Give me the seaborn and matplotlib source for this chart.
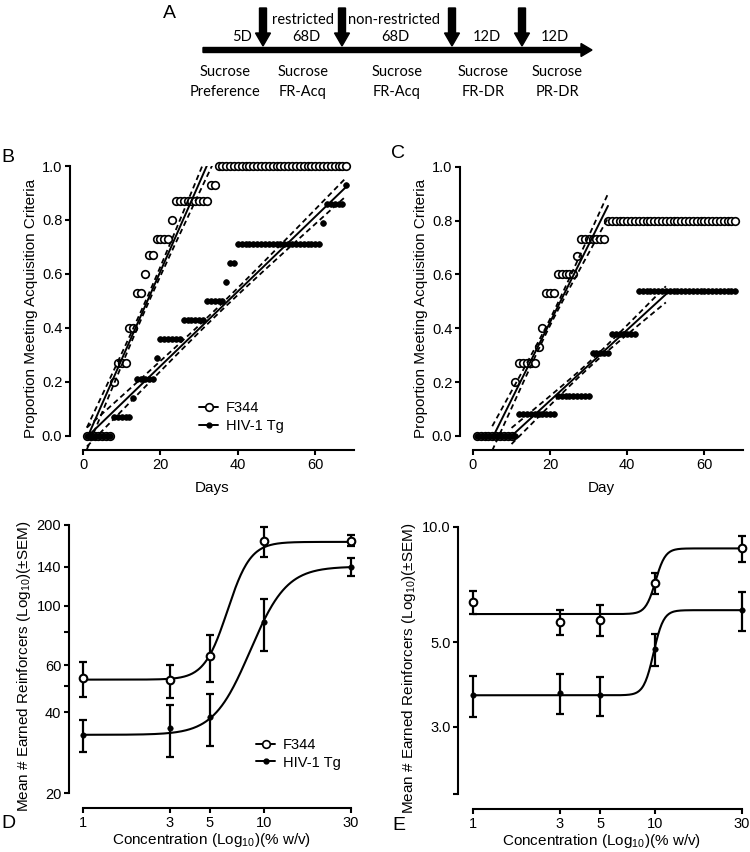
import numpy as np
import pandas as pd
import seaborn as sns
import matplotlib
matplotlib.use('Agg')
import matplotlib.pyplot as plt
from matplotlib.lines import Line2D
from matplotlib.ticker import FixedLocator, NullLocator

# ---- panel B / C : proportion meeting criteria, day by day (step levels + run lengths)
days = np.arange(1, 69)

b_f344_levels = [0.0, 0.20, 0.27, 0.40, 0.53, 0.60, 0.67, 0.73, 0.80, 0.87, 0.93, 1.00]
b_f344_runs = [7, 1, 3, 2, 2, 1, 2, 4, 1, 9, 2, 34]
b_hiv_levels = [0.0, 0.07, 0.14, 0.21, 0.29, 0.36, 0.43, 0.50, 0.57, 0.64, 0.71, 0.79, 0.86, 0.93]
b_hiv_runs = [7, 5, 1, 5, 1, 6, 6, 5, 1, 2, 22, 1, 5, 1]

c_f344_levels = [0.0, 0.20, 0.27, 0.33, 0.40, 0.53, 0.60, 0.67, 0.73, 0.80]
c_f344_runs = [10, 1, 5, 1, 1, 3, 5, 1, 7, 34]
c_hiv_levels = [0.0, 0.08, 0.15, 0.31, 0.38, 0.54]
c_hiv_runs = [11, 10, 9, 5, 7, 26]

# linear fits: slope, intercept, first day, last day ; 95% CI: centre day, half width at centre, at end
b_f344_fit = [0.0326, -0.042, 1.0, 34.0]
b_f344_ci = [16.5, 0.015, 0.045]
b_hiv_fit = [0.01384, -0.018, 1.0, 68.0]
b_hiv_ci = [35.0, 0.012, 0.035]
c_f344_fit = [0.02877, -0.1525, 5.0, 35.0]
c_f344_ci = [20.0, 0.012, 0.045]
c_hiv_fit = [0.01315, -0.1315, 10.0, 50.0]
c_hiv_ci = [30.0, 0.010, 0.030]

# ---- panel D / E : dose response
conc = [1, 3, 5, 10, 30]
d_f344_mean = [53.7, 52.8, 64.9, 174, 175]
d_f344_sem = [8.2, 7.5, 12.9, 22.5, 8.5]
d_hiv_mean = [32.9, 34.9, 38.5, 87.1, 140]
d_hiv_sem = [4.5, 7.7, 8.4, 19.1, 11.0]
e_f344_mean = [6.37, 5.65, 5.71, 7.13, 8.79]
e_f344_sem = [0.45, 0.43, 0.53, 0.44, 0.68]
e_hiv_mean = [3.63, 3.68, 3.63, 4.79, 6.06]
e_hiv_sem = [0.44, 0.44, 0.43, 0.47, 0.72]

# sigmoid fits: bottom, top, EC50, hill slope
d_f344_curve = [53, 173, 6.8, 7.0]
d_hiv_curve = [33, 140, 9.8, 4.5]
e_f344_curve = [5.92, 8.79, 10.2, 16.0]
e_hiv_curve = [3.63, 6.06, 10.0, 16.0]

sns.set_theme(style='ticks')
plt.rcParams['font.family'] = ['Liberation Sans', 'DejaVu Sans']
plt.rcParams.update({
    'mathtext.fontset': 'custom',
    'mathtext.rm': 'Liberation Sans',
    'mathtext.it': 'Liberation Sans:italic',
    'mathtext.bf': 'Liberation Sans:bold',
    'axes.edgecolor': 'black',
    'text.color': 'black',
    'axes.labelcolor': 'black',
    'xtick.color': 'black',
    'ytick.color': 'black',
})

W, H = 750, 852
fig = plt.figure(figsize=(7.5, 8.52), dpi=100)


def box(left, top, right, bottom):
    return [left / W, 1 - bottom / H, (right - left) / W, (bottom - top) / H]


def style(ax):
    for s in ['top', 'right']:
        ax.spines[s].set_visible(False)
    for s in ['left', 'bottom']:
        ax.spines[s].set_linewidth(1.5)
    ax.tick_params(direction='out', length=3.5, width=1.5, labelsize=10.5, pad=2)
    ax.set_facecolor('none')


def step_df(levels, runs):
    return pd.DataFrame({'day': days, 'prop': np.repeat(levels, runs)})


def fit_lines(ax, fit, ci):
    slope, icpt, x0, x1 = fit
    xm, hm, he = ci
    xs = np.linspace(x0, x1, 200)
    ys = slope * xs + icpt
    k = (he ** 2 - hm ** 2) / max(abs(x1 - xm), abs(x0 - xm)) ** 2
    half = np.sqrt(hm ** 2 + k * (xs - xm) ** 2)
    sns.lineplot(x=xs, y=ys, color='black', lw=1.4, ax=ax, zorder=4)
    for sign in (1, -1):
        sns.lineplot(x=xs, y=ys + sign * half, color='black', lw=1.3,
                     linestyle=(0, (3, 2)), ax=ax, zorder=4)


def panel_bc(ax, f344, hiv, f_fit, f_ci, h_fit, h_ci, xlabel):
    fit_lines(ax, f_fit, f_ci)
    fit_lines(ax, h_fit, h_ci)
    sns.scatterplot(data=f344, x='day', y='prop', marker='o', s=30, facecolor='white',
                    edgecolor='black', linewidth=1.2, ax=ax, clip_on=False, zorder=3)
    sns.scatterplot(data=hiv, x='day', y='prop', marker='o', s=17, color='black',
                    edgecolor='black', linewidth=0.5, ax=ax, clip_on=False, zorder=5)
    ax.set_xlim(-3.36, 70)
    ax.set_ylim(-0.052, 1.0)
    ax.spines['left'].set_bounds(0, 1)
    ax.spines['bottom'].set_bounds(0, 70)
    ax.set_xticks([0, 20, 40, 60])
    ax.set_yticks([0, 0.2, 0.4, 0.6, 0.8, 1.0])
    ax.set_yticklabels(['0.0', '0.2', '0.4', '0.6', '0.8', '1.0'])
    ax.set_xlabel(xlabel, fontsize=11, labelpad=7)
    ax.set_ylabel('Proportion Meeting Acquisition Criteria', fontsize=11, labelpad=3)
    style(ax)


def sigmoid(x, p):
    bottom, top, ec50, hill = p
    return bottom + (top - bottom) / (1 + 10 ** ((np.log10(ec50) - np.log10(x)) * hill))


def panel_de(ax, fm, fs, fp, hm, hs, hp):
    xs = np.logspace(0, np.log10(30), 300)
    sns.lineplot(x=xs, y=sigmoid(xs, fp), color='black', lw=1.5, ax=ax, zorder=2)
    sns.lineplot(x=xs, y=sigmoid(xs, hp), color='black', lw=1.5, ax=ax, zorder=2)
    for m, s in [(fm, fs), (hm, hs)]:
        ax.errorbar(conc, m, yerr=s, fmt='none', ecolor='black', elinewidth=1.6,
                    capsize=3, capthick=1.6, clip_on=False, zorder=3)
    sns.scatterplot(x=conc, y=fm, marker='o', s=30, facecolor='white', edgecolor='black',
                    linewidth=1.5, ax=ax, clip_on=False, zorder=4)
    sns.scatterplot(x=conc, y=hm, marker='o', s=16, color='black', edgecolor='black',
                    ax=ax, clip_on=False, zorder=4)
    ax.set_xscale('log')
    ax.set_yscale('log')
    ax.xaxis.set_major_locator(FixedLocator(conc))
    ax.set_xticklabels([str(c) for c in conc])
    ax.xaxis.set_minor_locator(NullLocator())
    ax.yaxis.set_minor_locator(NullLocator())
    ax.spines['bottom'].set_bounds(1, 30)
    ax.set_xlabel('Concentration (Log$_{10}$)(% w/v)', fontsize=11, labelpad=1)
    ax.set_ylabel('Mean # Earned Reinforcers (Log$_{10}$)(±SEM)', fontsize=11, labelpad=3)
    style(ax)


# ---- B
ax_b = fig.add_axes(box(70, 166, 354, 450))
panel_bc(ax_b, step_df(b_f344_levels, b_f344_runs), step_df(b_hiv_levels, b_hiv_runs),
         b_f344_fit, b_f344_ci, b_hiv_fit, b_hiv_ci, 'Days')

handles = [Line2D([0], [0], color='black', lw=1.4, marker='o', ms=5.5, mfc='white', mec='black', mew=1.2),
           Line2D([0], [0], color='black', lw=1.4, marker='o', ms=3.5, mfc='black', mec='black')]
ax_b.legend(handles, ['F344', 'HIV-1 Tg'], loc='lower left', bbox_to_anchor=(0.43, 0.035),
            frameon=False, fontsize=10.5, handlelength=1.3, handletextpad=0.5, labelspacing=0.25,
            borderpad=0)

# ---- C
ax_c = fig.add_axes(box(460, 166.7, 743, 450))
panel_bc(ax_c, step_df(c_f344_levels, c_f344_runs), step_df(c_hiv_levels, c_hiv_runs),
         c_f344_fit, c_f344_ci, c_hiv_fit, c_hiv_ci, 'Day')

# ---- D
ax_d = fig.add_axes(box(69, 525, 355, 808))
panel_de(ax_d, d_f344_mean, d_f344_sem, d_f344_curve, d_hiv_mean, d_hiv_sem, d_hiv_curve)
ax_d.set_xlim(0.837, 31.56)
ax_d.set_ylim(17.6, 200)
ax_d.spines['left'].set_bounds(20, 200)
ax_d.yaxis.set_major_locator(FixedLocator([20, 40, 50, 60, 80, 100, 140, 200]))
ax_d.set_yticklabels(['20', '40', '', '60', '', '100', '140', '200'])
ax_d.legend(handles, ['F344', 'HIV-1 Tg'], loc='lower left', bbox_to_anchor=(0.63, 0.11),
            frameon=False, fontsize=10.5, handlelength=1.3, handletextpad=0.5, labelspacing=0.25,
            borderpad=0)

# ---- E
ax_e = fig.add_axes(box(458, 527, 745, 809))
panel_de(ax_e, e_f344_mean, e_f344_sem, e_f344_curve, e_hiv_mean, e_hiv_sem, e_hiv_curve)
ax_e.set_xlim(0.827, 31.3)
ax_e.set_ylim(1.83, 10)
ax_e.spines['left'].set_bounds(2, 10)
ax_e.yaxis.set_major_locator(FixedLocator([2, 3, 5, 10]))
ax_e.set_yticklabels(['', '3.0', '5.0', '10.0'])

# ---- A : timeline
ax_a = fig.add_axes(box(0, 0, 750, 130))
ax_a.set_xlim(0, 750)
ax_a.set_ylim(130, 0)
ax_a.axis('off')
ax_a.arrow(203, 50, 389, 0, width=5, head_width=13, head_length=11,
           length_includes_head=True, color='black')
for xa in [263, 342, 452, 522]:
    ax_a.arrow(xa, 8, 0, 38, width=7, head_width=15, head_length=13,
               length_includes_head=True, color='black')
tfont = dict(family=['Lato', 'DejaVu Sans'], fontsize=10.5, ha='center', va='center')
ax_a.text(242, 37, '5D', **tfont)
ax_a.text(303, 20, 'restricted', **tfont)
ax_a.text(306, 37, '68D', **tfont)
ax_a.text(394, 20, 'non-restricted', **tfont)
ax_a.text(395, 37, '68D', **tfont)
ax_a.text(487, 37, '12D', **tfont)
ax_a.text(555, 37, '12D', **tfont)
for xc, lab in [(225, 'Preference'), (303, 'FR-Acq'), (397, 'FR-Acq'), (483, 'FR-DR'), (557, 'PR-DR')]:
    ax_a.text(xc, 72, 'Sucrose', **tfont)
    ax_a.text(xc, 92, lab, **tfont)

# panel letters
for lx, ly, letter in [(163, 13, 'A'), (1, 157, 'B'), (391, 153, 'C'), (1, 823, 'D'), (392, 826, 'E')]:
    fig.text(lx / W, 1 - ly / H, letter, fontsize=14, ha='left', va='center')

fig.savefig('out.png', dpi=100, facecolor='white')
